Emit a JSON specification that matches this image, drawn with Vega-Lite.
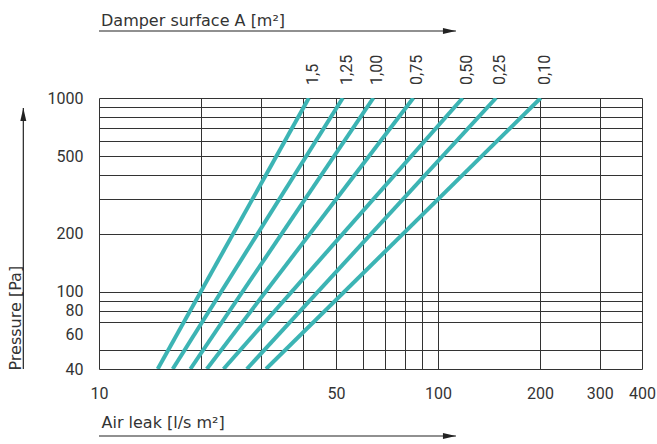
{
  "$schema": "https://vega.github.io/schema/vega-lite/v6.json",
  "width": 543,
  "height": 271,
  "autosize": "none",
  "padding": {"left": 99, "top": 98, "right": 15, "bottom": 75},
  "background": "white",
  "config": {"view": {"stroke": null}, "font": "Roboto"},
  "datasets": {
    "lines": [
      {"area": "1,5", "leak": 14.9, "pressure": 40},
      {"area": "1,5", "leak": 41.6, "pressure": 1000},
      {"area": "1,25", "leak": 16.5, "pressure": 40},
      {"area": "1,25", "leak": 52.4, "pressure": 1000},
      {"area": "1,00", "leak": 18.6, "pressure": 40},
      {"area": "1,00", "leak": 64.5, "pressure": 1000},
      {"area": "0,75", "leak": 20.8, "pressure": 40},
      {"area": "0,75", "leak": 84.6, "pressure": 1000},
      {"area": "0,50", "leak": 23.3, "pressure": 40},
      {"area": "0,50", "leak": 118.3, "pressure": 1000},
      {"area": "0,25", "leak": 27.3, "pressure": 40},
      {"area": "0,25", "leak": 148.4, "pressure": 1000},
      {"area": "0,10", "leak": 31.1, "pressure": 40},
      {"area": "0,10", "leak": 201.0, "pressure": 1000}
    ]
  },
  "layer": [
    {
      "data": {"name": "lines"},
      "mark": {"type": "line", "color": "#3cb4b4", "strokeWidth": 4, "strokeCap": "butt", "clip": true},
      "encoding": {
        "x": {
          "field": "leak", "type": "quantitative",
          "scale": {"type": "log", "domain": [10, 400], "nice": false},
          "axis": {
            "values": [10, 20, 30, 40, 50, 60, 70, 80, 90, 100, 200, 300, 400],
            "grid": true, "gridColor": "#333", "gridWidth": 1, "gridOpacity": 1,
            "ticks": false, "domain": false,
            "labelExpr": "indexof([10,50,100,200,300,400], datum.value) >= 0 ? format(datum.value, 'd') : ''",
            "labelFont": "Roboto", "labelFontSize": 16, "labelColor": "#333",
            "labelPadding": 24, "labelBaseline": "middle", "labelOverlap": false, "labelFlush": false,
            "title": "Air leak [l/s m²]",
            "titleFont": "DejaVu Sans", "titleFontSize": 16, "titleFontWeight": "normal", "titleColor": "#333",
            "titleAlign": "left", "titleBaseline": "middle", "titleX": 2, "titleY": 53
          }
        },
        "y": {
          "field": "pressure", "type": "quantitative",
          "scale": {"type": "log", "domain": [40, 1000], "nice": false},
          "axis": {
            "values": [40, 50, 60, 70, 80, 90, 100, 200, 300, 400, 500, 600, 700, 800, 900, 1000],
            "grid": true, "gridColor": "#333", "gridWidth": 1,
            "gridOpacity": {"condition": {"test": "datum.value === 60", "value": 0}, "value": 1},
            "ticks": false, "domain": false,
            "labelExpr": "indexof([40,60,80,100,200,500,1000], datum.value) >= 0 ? format(datum.value, 'd') : ''",
            "labelFont": "Roboto", "labelFontSize": 16, "labelColor": "#333",
            "labelPadding": 16, "labelOverlap": false, "labelFlush": false,
            "title": "Pressure [Pa]",
            "titleFont": "DejaVu Sans", "titleFontSize": 16, "titleFontWeight": "normal", "titleColor": "#333",
            "titleAngle": 270, "titleAlign": "left", "titleBaseline": "middle", "titleX": -84, "titleY": 272
          }
        },
        "detail": {"field": "area"}
      }
    },
    {
      "data": {"name": "lines"},
      "transform": [{"filter": "datum.pressure == 1000"}],
      "mark": {"type": "text", "angle": 270, "align": "left", "baseline": "middle", "dx": 13, "dy": 4, "font": "Roboto", "fontSize": 16, "color": "#333"},
      "encoding": {
        "x": {"field": "leak", "type": "quantitative"},
        "y": {"field": "pressure", "type": "quantitative"},
        "text": {"field": "area"}
      }
    },
    {
      "data": {"values": [{}]},
      "mark": {"type": "text", "align": "left", "baseline": "middle", "dx": 2, "font": "DejaVu Sans", "fontSize": 16, "color": "#333"},
      "encoding": {
        "x": {"datum": 10, "type": "quantitative"},
        "y": {"datum": 2505, "type": "quantitative"},
        "text": {"value": "Damper surface A [m²]"}
      }
    },
    {
      "data": {"values": [{}]},
      "mark": {"type": "rule", "color": "#222", "strokeWidth": 1.2},
      "encoding": {
        "x": {"datum": 10, "type": "quantitative"},
        "x2": {"datum": 113},
        "y": {"datum": 2216, "type": "quantitative"}
      }
    },
    {
      "data": {"values": [{}]},
      "mark": {"type": "point", "shape": "M-2,-0.46L0,0L-2,0.46Z", "size": 169, "filled": true, "color": "#222", "opacity": 1, "strokeWidth": 0},
      "encoding": {
        "x": {"datum": 113, "type": "quantitative"},
        "y": {"datum": 2216, "type": "quantitative"}
      }
    },
    {
      "data": {"values": [{}]},
      "mark": {"type": "rule", "color": "#222", "strokeWidth": 1.2},
      "encoding": {
        "x": {"datum": 10, "type": "quantitative"},
        "x2": {"datum": 113},
        "y": {"datum": 18.05, "type": "quantitative"}
      }
    },
    {
      "data": {"values": [{}]},
      "mark": {"type": "point", "shape": "M-2,-0.46L0,0L-2,0.46Z", "size": 169, "filled": true, "color": "#222", "opacity": 1, "strokeWidth": 0},
      "encoding": {
        "x": {"datum": 113, "type": "quantitative"},
        "y": {"datum": 18.05, "type": "quantitative"}
      }
    },
    {
      "data": {"values": [{}]},
      "mark": {"type": "rule", "color": "#222", "strokeWidth": 1.2},
      "encoding": {
        "x": {"datum": 5.98, "type": "quantitative"},
        "y": {"datum": 40, "type": "quantitative"},
        "y2": {"datum": 888}
      }
    },
    {
      "data": {"values": [{}]},
      "mark": {"type": "point", "shape": "M-0.46,2L0,0L0.46,2Z", "size": 169, "filled": true, "color": "#222", "opacity": 1, "strokeWidth": 0},
      "encoding": {
        "x": {"datum": 5.98, "type": "quantitative"},
        "y": {"datum": 888, "type": "quantitative"}
      }
    }
  ]
}
